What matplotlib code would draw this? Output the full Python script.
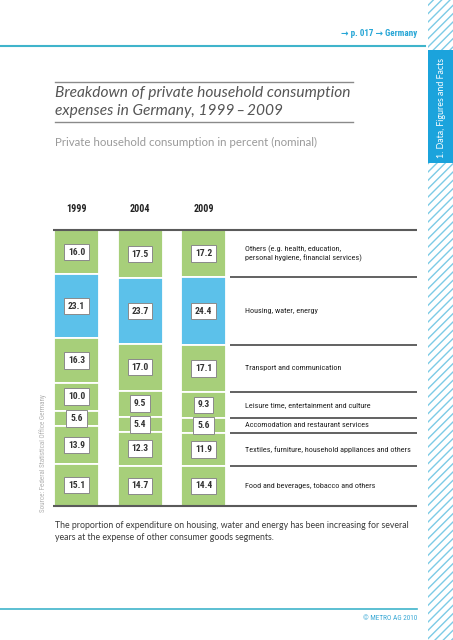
import matplotlib
matplotlib.use('Agg')
import matplotlib.pyplot as plt
from matplotlib.patches import Rectangle
import numpy as np

# data
years = ['1999', '2004', '2009']
categories = ['Others (e.g. health, education,\npersonal hygiene, financial services)',
              'Housing, water, energy',
              'Transport and communication',
              'Leisure time, entertainment and culture',
              'Accomodation and restaurant services',
              'Textiles, furniture, household appliances and others',
              'Food and beverages, tobacco and others']
share_1999 = [16.0, 23.1, 16.3, 10.0, 5.6, 13.9, 15.1]
share_2004 = [17.5, 23.7, 17.0, 9.5, 5.4, 12.3, 14.7]
share_2009 = [17.2, 24.4, 17.1, 9.3, 5.6, 11.9, 14.4]
shares = [share_1999, share_2004, share_2009]

GREEN = '#a7cf7a'
BLUE = '#5cc1ea'
seg_colors = [GREEN, BLUE, GREEN, GREEN, GREEN, GREEN, GREEN]

NARROW = ['Roboto Condensed', 'Roboto', 'DejaVu Sans']
BODY = ['Lato', 'DejaVu Sans']

W, H = 453, 640
fig = plt.figure(figsize=(W / 100, H / 100), dpi=100)

# page decoration, in pixel units
bg = fig.add_axes([0, 0, 1, 1])
bg.set_xlim(0, W)
bg.set_ylim(H, 0)
bg.axis('off')

bg.add_patch(Rectangle((428, 0), 25, H, fc='white', ec='#7ccbe6', lw=0, hatch='////'))
bg.add_patch(Rectangle((428, 50), 25, 113, fc='#1ba3dc', ec='none'))
bg.text(441, 108, '1. Data, Figures and Facts', rotation=90, color='white',
        ha='center', va='center', fontsize=6.4, family=BODY)

bg.plot([0, 425], [45.5, 45.5], color='#3fb4cb', lw=1.5)
bg.text(417, 33, '\u2192 p. 017 \u2192 Germany', ha='right', va='center',
        color='#27a6d6', fontsize=6.5, fontweight='bold', family=NARROW)

bg.plot([55, 353], [82, 82], color='#8a8a8a', lw=1)
bg.plot([55, 353], [122, 122], color='#8a8a8a', lw=1)
bg.text(55, 93, 'Breakdown of private household consumption', ha='left', va='center',
        color='#555555', fontsize=11.2, style='italic', family=BODY)
bg.text(55, 111, 'expenses in Germany, 1999\u2009\u2013\u20092009', ha='left', va='center',
        color='#555555', fontsize=11.2, style='italic', family=BODY)
bg.text(55, 142, 'Private household consumption in percent (nominal)', ha='left', va='center',
        color='#9a9a9a', fontsize=8.3, family=BODY)

bg.text(43, 453, 'Source: Federal Statistical Office Germany', rotation=90, ha='center',
        va='center', color='#b0b0b0', fontsize=5.0, family=NARROW)

bg.text(55, 525, 'The proportion of expenditure on housing, water and energy has been increasing for several',
        ha='left', va='center', color='#3a3a3a', fontsize=6.35, family=BODY)
bg.text(55, 538, 'years at the expense of other consumer goods segments.',
        ha='left', va='center', color='#3a3a3a', fontsize=6.35, family=BODY)

bg.plot([0, 417], [609, 609], color='#3fb4cb', lw=1.2)
bg.text(417, 619, '\u00a9 METRO AG 2010', ha='right', va='center', color='#3aa9d6',
        fontsize=5.2, family=NARROW)

# bar chart: columns 63.5 px apart, 100 % = 276 px
left_px, right_px, top_px, bot_px = 53, 417, 230, 506
unit = 63.5
x0 = -(76.5 - left_px) / unit
x1 = (right_px - 76.5) / unit
ax = fig.add_axes([left_px / W, 1 - bot_px / H, (right_px - left_px) / W, (bot_px - top_px) / H])
ax.set_xlim(x0, x1)
ax.set_ylim(100, 0)
ax.axis('off')

bar_w = 45 / unit
for i, vals in enumerate(shares):
    bottoms = np.concatenate([[0], np.cumsum(vals)[:-1]])
    ax.bar(i, vals, width=bar_w, bottom=bottoms, color=seg_colors,
           edgecolor='white', linewidth=1.3, zorder=2)
    for v, b in zip(vals, bottoms):
        ax.text(i, b + v / 2, f'{v:.1f}', ha='center', va='center', fontsize=6.8,
                fontweight='bold', color='#333333', family=NARROW, zorder=4,
                bbox=dict(boxstyle='square,pad=0.4', fc='white', ec='#8a8a8a', lw=0.7))
    ax.text(i, -7.6, years[i], ha='center', va='center', fontsize=7.2,
            fontweight='bold', color='#222222', family=NARROW, clip_on=False)

ax.hlines([0, 100], x0, x1, color='#5a5a5a', lw=1.5, zorder=3, clip_on=False)
cum09 = np.cumsum(share_2009)
lab_x0 = (230 - 76.5) / unit
ax.hlines(cum09[:-1], lab_x0, x1, color='#555555', lw=1.3, zorder=3)

label_x = (245 - 76.5) / unit
centers09 = np.concatenate([[0], cum09[:-1]]) + np.array(share_2009) / 2
for lab, c in zip(categories, centers09):
    ax.text(label_x, c, lab, ha='left', va='center', fontsize=5.9, color='#222222',
            family=NARROW, linespacing=1.3)

fig.savefig('out.png', dpi=100)
